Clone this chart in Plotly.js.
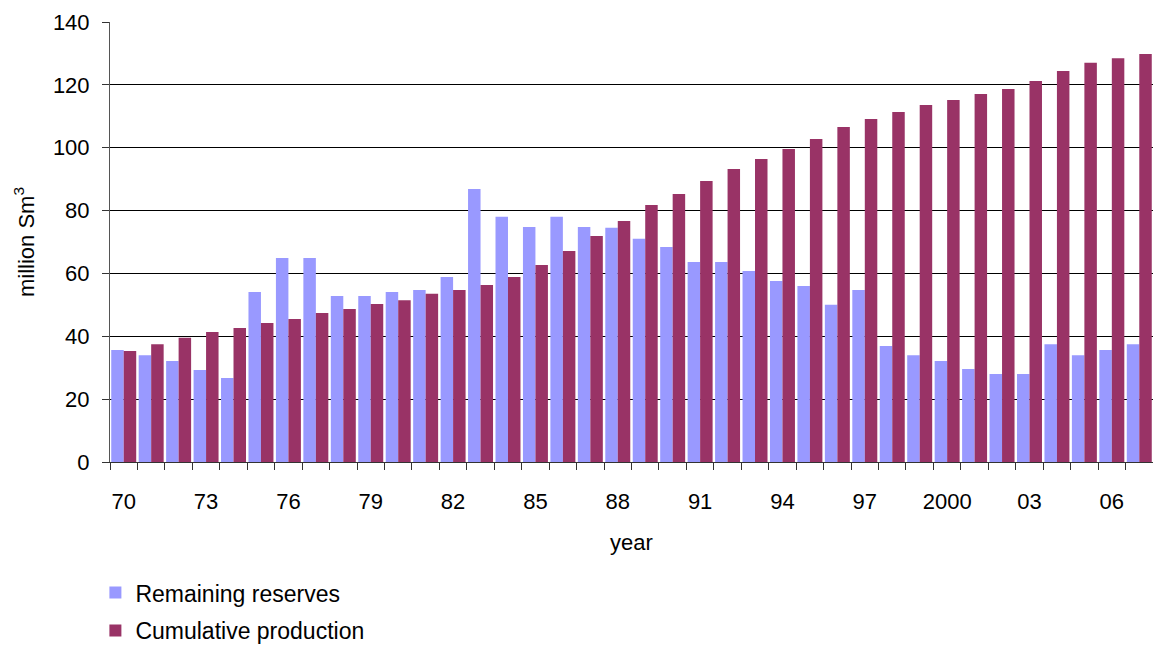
<!DOCTYPE html>
<html>
<head>
<meta charset="utf-8">
<script src="https://cdn.plot.ly/plotly-3.0.1.min.js"></script>
<style>
  html, body { margin: 0; padding: 0; background: #ffffff; }
  #chart { width: 1153px; height: 646px; }
</style>
</head>
<body>
<div id="chart"></div>
<script>
// Gas reserves and cumulative production, 1970-2007 (million Sm3)
const years = [];
for (let y = 1970; y <= 2007; y++) years.push(y);

const remainingReserves = [
  35.6, 34.0, 32.1, 29.3, 26.7, 54.1, 64.9, 64.9, 52.8, 52.8,
  54.1, 54.7, 58.9, 86.9, 78.0, 74.8, 78.0, 74.8, 74.5, 71.0,
  68.4, 63.6, 63.6, 60.8, 57.6, 56.0, 50.0, 54.7, 36.9, 34.0,
  32.1, 29.6, 28.0, 28.0, 37.5, 34.0, 35.6, 37.5
];

const cumulativeProduction = [
  35.3, 37.5, 39.5, 41.4, 42.6, 44.2, 45.5, 47.4, 48.7, 50.3,
  51.5, 53.5, 54.7, 56.3, 58.9, 62.7, 67.1, 71.9, 76.7, 81.8,
  85.3, 89.4, 93.2, 96.4, 99.6, 102.8, 106.6, 109.1, 111.4, 113.6,
  115.2, 117.1, 118.7, 121.2, 124.4, 127.0, 128.5, 129.8
];

const labelYears = [1970, 1973, 1976, 1979, 1982, 1985, 1988, 1991, 1994, 1997, 2000, 2003, 2006];
const labelText  = ['70', '73', '76', '79', '82', '85', '88', '91', '94', '97', '2000', '03', '06'];

// category boundaries carry the small tick marks
const boundaries = years.map(y => y - 0.5).concat([years[years.length - 1] + 0.5]);

const family = 'Liberation Sans, Arial, sans-serif';
const tickFont = { family: family, size: 22, color: '#000000' };
const titleFont = { family: family, size: 22, color: '#000000' };
const legendFont = { family: family, size: 23, color: '#000000' };

const traces = [
  {
    type: 'bar',
    name: 'Remaining reserves',
    legendgroup: 'reserves',
    x: years,
    y: remainingReserves,
    marker: { color: '#9999FF', line: { width: 0 } },
    hoverinfo: 'x+y'
  },
  {
    type: 'bar',
    name: 'Cumulative production',
    legendgroup: 'production',
    x: years,
    y: cumulativeProduction,
    marker: { color: '#993366', line: { width: 0 } },
    hoverinfo: 'x+y'
  }
];

const layout = {
  width: 1153,
  height: 646,
  margin: { l: 110, r: 0, t: 22, b: 184, autoexpand: false },
  paper_bgcolor: '#ffffff',
  plot_bgcolor: '#ffffff',
  font: tickFont,
  barmode: 'group',
  bargap: 0.09,
  bargroupgap: 0,
  showlegend: true,
  legend: {
    orientation: 'v',
    traceorder: 'grouped',
    x: -0.014,
    xanchor: 'left',
    y: -0.248,
    yanchor: 'top',
    font: legendFont,
    itemwidth: 30,
    tracegroupgap: 5,
    bgcolor: 'rgba(0,0,0,0)'
  },
  xaxis: {
    range: [1969.5, 2007.5],
    tickmode: 'array',
    tickvals: labelYears,
    ticktext: labelText,
    ticks: '',
    ticklabelstandoff: 20,
    showgrid: false,
    zeroline: false,
    showline: true,
    linecolor: '#333333',
    linewidth: 1,
    tickfont: tickFont,
    minor: {
      tickmode: 'array',
      tickvals: boundaries,
      ticks: 'outside',
      ticklen: 7,
      tickcolor: '#333333',
      tickwidth: 1,
      showgrid: false
    },
    title: { text: 'year', font: titleFont, standoff: 21 },
    fixedrange: true
  },
  yaxis: {
    range: [0, 140],
    tick0: 0,
    dtick: 20,
    ticks: 'outside',
    ticklen: 7,
    tickcolor: '#333333',
    ticklabelstandoff: 8,
    showgrid: true,
    gridcolor: '#000000',
    gridwidth: 1,
    zeroline: false,
    showline: true,
    linecolor: '#555555',
    linewidth: 1,
    tickfont: tickFont,
    title: { text: 'million Sm<sup>3</sup>', font: titleFont, standoff: 12 },
    fixedrange: true
  }
};

Plotly.newPlot('chart', traces, layout, { displayModeBar: false, staticPlot: true });
</script>
</body>
</html>
